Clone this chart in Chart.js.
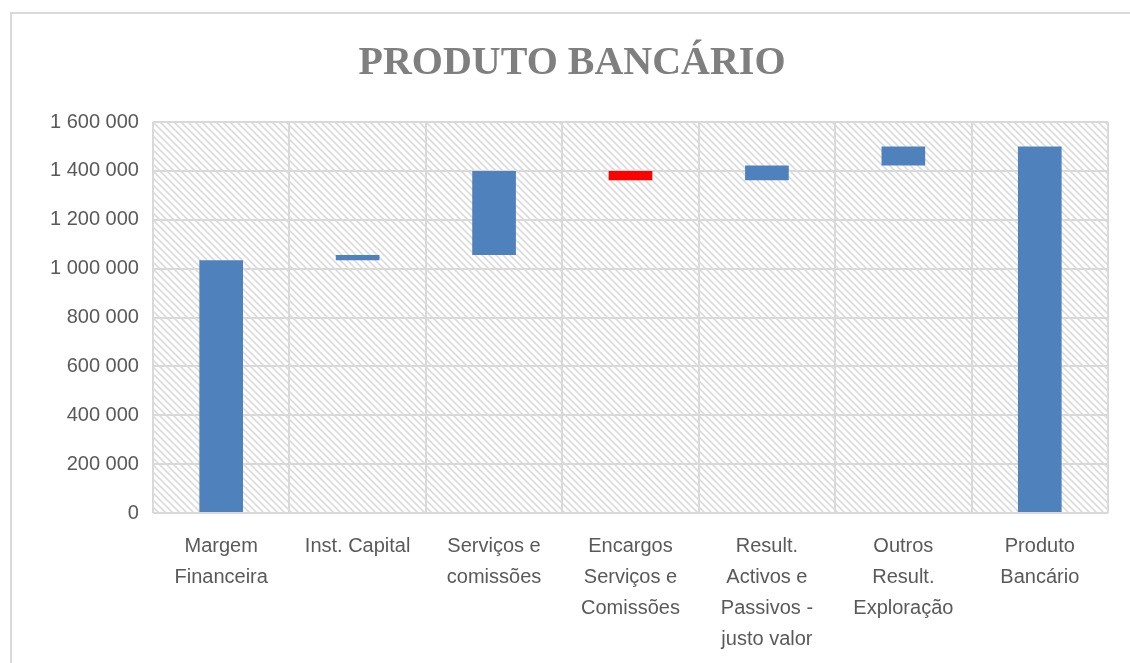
<!DOCTYPE html>
<html>
<head>
<meta charset="utf-8">
<script src="https://cdn.jsdelivr.net/npm/chart.js@4"></script>
<style>
  body { margin: 0; background: #fff; overflow: hidden; }
  #box { position: absolute; left: 10px; top: 12px; width: 1130px; height: 700px; border: 2px solid #d9d9d9; box-sizing: border-box; }
  #wrap { position: absolute; left: 10px; top: 0; width: 1130px; height: 663px; }
</style>
</head>
<body>
<div id="box"></div>
<div id="wrap"><canvas id="chart"></canvas></div>
<script>
// ========== Dados ==========
const categories = [
  ['Margem', 'Financeira'],
  ['Inst. Capital'],
  ['Serviços e', 'comissões'],
  ['Encargos', 'Serviços e', 'Comissões'],
  ['Result.', 'Activos e', 'Passivos -', 'justo valor'],
  ['Outros', 'Result.', 'Exploração'],
  ['Produto', 'Bancário']
];
const barStart = [0, 1034000, 1056000, 1362000, 1362000, 1422000, 0];
const barEnd = [1034000, 1056000, 1400000, 1400000, 1422000, 1500000, 1500000];
const barColors = ['#4f81bd', '#4f81bd', '#4f81bd', '#ff0000', '#4f81bd', '#4f81bd', '#4f81bd'];
const yTicks = [0, 200000, 400000, 600000, 800000, 1000000, 1200000, 1400000, 1600000];

// ========== Fundo tracejado ==========
function makeHatch() {
  const c = document.createElement('canvas');
  c.width = 7; c.height = 7;
  const g = c.getContext('2d');
  g.fillStyle = '#ffffff';
  g.fillRect(0, 0, 7, 7);
  g.strokeStyle = '#dcdcdc';
  g.lineWidth = 1.6;
  g.beginPath();
  g.moveTo(-1, -1); g.lineTo(8, 8);
  g.moveTo(-1, 6); g.lineTo(1, 8);
  g.moveTo(6, -1); g.lineTo(8, 1);
  g.stroke();
  return c;
}

const hatchPlugin = {
  id: 'hatch',
  beforeDraw(chart) {
    const { ctx, chartArea } = chart;
    ctx.save();
    ctx.fillStyle = ctx.createPattern(makeHatch(), 'repeat');
    ctx.fillRect(chartArea.left, chartArea.top, chartArea.right - chartArea.left, chartArea.bottom - chartArea.top);
    ctx.restore();
  }
};

function fmt(v) {
  return String(v).replace(/\B(?=(\d{3})+(?!\d))/g, ' ');
}

// ========== Gráfico ==========
const ctx = document.getElementById('chart').getContext('2d');
new Chart(ctx, {
  type: 'bar',
  data: {
    labels: categories,
    datasets: [{
      data: barStart.map((s, i) => [s, barEnd[i]]),
      backgroundColor: barColors,
      borderWidth: 0,
      barPercentage: 0.32,
      categoryPercentage: 1
    }]
  },
  options: {
    responsive: true,
    maintainAspectRatio: false,
    animation: false,
    layout: { padding: { left: 26, right: 32, top: 10, bottom: 10 } },
    plugins: {
      legend: { display: false },
      tooltip: { enabled: false },
      title: {
        display: true,
        text: 'PRODUTO BANCÁRIO',
        color: '#7f7f7f',
        font: { family: 'Liberation Serif', size: 40, weight: 'bold' },
        padding: { top: 30, bottom: 34 }
      }
    },
    scales: {
      x: {
        afterFit(axis) { axis.height = 140; },
        grid: { color: '#d9d9d9', lineWidth: 2, drawTicks: false, offset: true },
        border: { display: false },
        ticks: {
          color: '#595959',
          font: { family: 'Liberation Sans', size: 20, lineHeight: 1.55 },
          padding: 18,
          maxRotation: 0,
          autoSkip: false
        }
      },
      y: {
        min: 0,
        max: 1600000,
        afterBuildTicks(axis) { axis.ticks = yTicks.map(v => ({ value: v })); },
        grid: { color: '#d9d9d9', lineWidth: 2, drawTicks: false },
        border: { display: false },
        ticks: {
          color: '#595959',
          font: { family: 'Liberation Sans', size: 20 },
          padding: 14,
          callback: v => fmt(v)
        }
      }
    }
  },
  plugins: [hatchPlugin]
});
</script>
</body>
</html>
